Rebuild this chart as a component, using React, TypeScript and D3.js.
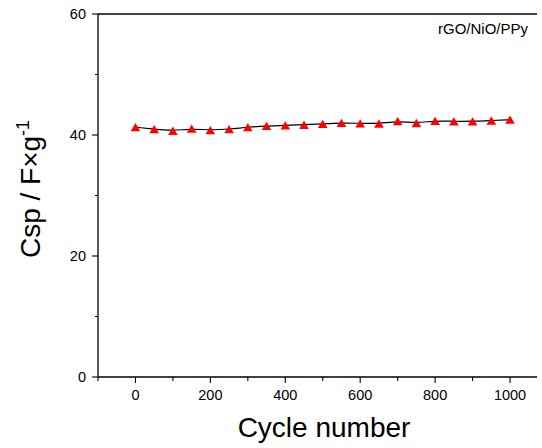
import React from 'react';
import * as d3 from 'd3';

// cycle data
const cycles = [0, 50, 100, 150, 200, 250, 300, 350, 400, 450, 500, 550, 600, 650, 700, 750, 800, 850, 900, 950, 1000];
const csp = [41.3, 40.96, 40.7, 41.04, 40.8, 40.96, 41.3, 41.5, 41.6, 41.7, 41.85, 42.0, 41.93, 41.9, 42.28, 41.98, 42.34, 42.26, 42.26, 42.4, 42.53];

const xMajor = [0, 200, 400, 600, 800, 1000];
const xMinor = [-100, 100, 300, 500, 700, 900];
const yMajor = [0, 20, 40, 60];
const yMinor = [10, 30, 50];

const width = 542;
const height = 448;
const font = '"Liberation Sans", Arial, sans-serif';

const App = () => {
    const x = d3.scaleLinear().domain([-100, 1072]).range([98, 537]);
    const y = d3.scaleLinear().domain([0, 60]).range([377, 14]);

    const pts: [number, number][] = cycles.map((c, i) => [c, csp[i]]);
    const line = d3.line<[number, number]>()
        .x(d => x(d[0]))
        .y(d => y(d[1]))
        .curve(d3.curveBasis);

    const triSize = 40;
    const tri = d3.symbol().type(d3.symbolTriangle).size(triSize)();
    // shift so the bounding box is centred on the point
    const triH = Math.sqrt(triSize * 4 / Math.sqrt(3)) * Math.sqrt(3) / 2;

    return (
        <svg width={width} height={height} style={{ position: 'fixed', left: 0, top: 0, background: '#fff' }}>
            <g fontFamily={font} fill="#000">
                {/* frame */}
                <line x1={98} x2={537} y1={14} y2={14} stroke="#000" strokeWidth={1.3} />
                <line x1={98} x2={98} y1={14} y2={377} stroke="#000" strokeWidth={1.3} />
                <line x1={98} x2={537} y1={377} y2={377} stroke="#000" strokeWidth={1.3} />

                {/* x ticks */}
                {xMajor.map(t => (
                    <g key={'xm' + t}>
                        <line x1={x(t)} x2={x(t)} y1={377} y2={383} stroke="#000" strokeWidth={1.1} />
                        <text x={x(t)} y={400} textAnchor="middle" fontSize={14.5}>{t}</text>
                    </g>
                ))}
                {xMinor.map(t => (
                    <line key={'xn' + t} x1={x(t)} x2={x(t)} y1={377} y2={381} stroke="#000" strokeWidth={1.1} />
                ))}

                {/* y ticks */}
                {yMajor.map(t => (
                    <g key={'ym' + t}>
                        <line x1={92} x2={98} y1={y(t)} y2={y(t)} stroke="#000" strokeWidth={1.1} />
                        <text x={86} y={y(t) + 5} textAnchor="end" fontSize={14.5}>{t}</text>
                    </g>
                ))}
                {yMinor.map(t => (
                    <line key={'yn' + t} x1={95} x2={98} y1={y(t)} y2={y(t)} stroke="#000" strokeWidth={1.1} />
                ))}

                {/* fit line */}
                <path d={line(pts) || ''} fill="none" stroke="#000" strokeWidth={1.2} />

                {/* markers */}
                {pts.map((p, i) => (
                    <path key={i} d={tri || ''} fill="#ff0000"
                        transform={`translate(${x(p[0])},${y(p[1]) + triH / 6})`} />
                ))}

                <text x={528} y={33.5} textAnchor="end" fontSize={15}>rGO/NiO/PPy</text>

                {/* axis titles */}
                <text x={324} y={437} textAnchor="middle" fontSize={28}>Cycle number</text>
                <text transform="translate(40,189) rotate(-90)" textAnchor="middle" fontSize={28}>
                    Csp / F×g<tspan fontSize={18} dy={-11}>-1</tspan>
                </text>
            </g>
        </svg>
    );
};

export default App;
